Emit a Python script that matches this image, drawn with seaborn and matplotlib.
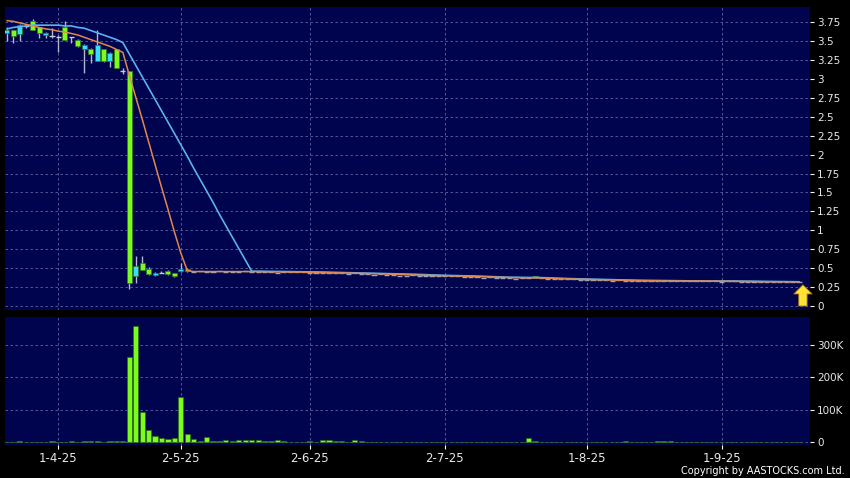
import numpy as np
import matplotlib
matplotlib.use('Agg')
import matplotlib.pyplot as plt
from matplotlib.ticker import FuncFormatter
import seaborn as sns

############# data
# x = trading-day index, day 0 = 20-3-25 (HK trading days)
tick_days = [8, 27, 47, 68, 90, 111]
tick_labels = ['1-4-25', '2-5-25', '2-6-25', '2-7-25', '1-8-25', '1-9-25']

# candles up to just after the collapse (days 0-28)
c_open = [3.60, 3.64, 3.59, 3.70, 3.77, 3.68, 3.58, 3.57, 3.56, 3.68,
          3.55, 3.52, 3.39, 3.40, 3.24, 3.39, 3.24, 3.39, 3.10, 3.10,
          0.39, 0.57, 0.485, 0.41, 0.44, 0.46, 0.43, 0.46, 0.49]
c_high = [3.68, 3.65, 3.72, 3.73, 3.79, 3.69, 3.62, 3.67, 3.58, 3.76,
          3.56, 3.53, 3.46, 3.41, 3.65, 3.40, 3.35, 3.40, 3.14, 3.10,
          0.66, 0.66, 0.52, 0.45, 0.46, 0.47, 0.44, 0.57, 0.50]
c_low = [3.50, 3.47, 3.50, 3.67, 3.65, 3.54, 3.54, 3.54, 3.36, 3.52,
         3.47, 3.42, 3.08, 3.21, 3.23, 3.22, 3.16, 3.14, 3.06, 0.23,
         0.31, 0.47, 0.41, 0.40, 0.43, 0.41, 0.38, 0.45, 0.45]
c_close = [3.65, 3.57, 3.71, 3.70, 3.65, 3.61, 3.60, 3.57, 3.56, 3.52,
           3.55, 3.43, 3.45, 3.33, 3.45, 3.23, 3.34, 3.15, 3.10, 0.30,
           0.53, 0.48, 0.42, 0.44, 0.44, 0.42, 0.39, 0.49, 0.46]

# after that the price hardly moves: closes for days 29-123
tail_close = [0.45, 0.46, 0.45, 0.45, 0.46, 0.45, 0.45, 0.45, 0.46, 0.45,
              0.45, 0.45, 0.45, 0.44, 0.45, 0.45, 0.45, 0.45, 0.44,
              0.44, 0.44, 0.43, 0.43, 0.43, 0.42, 0.43, 0.42, 0.42, 0.41,
              0.42, 0.41, 0.41,
              0.40, 0.40, 0.41, 0.40, 0.40, 0.39, 0.39, 0.39, 0.40, 0.39,
              0.38, 0.38, 0.38, 0.37, 0.38,
              0.37, 0.37, 0.37, 0.36, 0.37, 0.37, 0.38, 0.37, 0.36, 0.36,
              0.35, 0.35, 0.35, 0.34, 0.34,
              0.34, 0.34, 0.34, 0.33, 0.34, 0.33, 0.33, 0.33, 0.33, 0.33,
              0.33, 0.33, 0.33, 0.33, 0.33,
              0.33, 0.33, 0.33, 0.33, 0.33, 0.32, 0.33, 0.33, 0.32, 0.32,
              0.32, 0.32, 0.32, 0.32, 0.32, 0.32, 0.32, 0.32]
body_day = 82          # the one visible body in the flat part
body_open = 0.39

# volume in thousands, days 0-123
volume_k = [1.5, 1, 2, 1, 1, 1.5, 1, 2, 1, 1, 2, 1, 3, 2, 2, 1, 2, 2, 3,
            262, 360, 93, 38, 20, 12, 10, 13, 141, 24,
            11, 4, 15, 4, 3, 8, 4, 5, 6, 6,
            6, 4, 2, 8, 2, 1, 1, 1, 3, 1,
            5, 5, 2, 2, 1, 8, 2, 1, 1, 1,
            1, 1, 0.5, 1, 1, 1.5, 1, 1, 0.5, 1,
            1, 1, 1.5, 1, 1, 0.5, 1, 1, 1.5, 1,
            1, 1.5, 12, 2, 1, 1, 0.5, 1, 1, 1,
            1, 0.5, 1, 1, 1.5, 1, 1, 3, 1, 1,
            0.5, 1, 2, 2, 2, 1, 1, 0.5, 1, 1,
            1, 1, 0.5, 1, 1, 1, 1, 0.5, 1, 1,
            1, 1, 0.5, 1, 1]

# moving averages (orange = 10 day, blue = 20 day)
ma10_days = list(range(29)) + [29, 33, 38, 43, 48, 53, 58, 63, 68, 73, 78,
                               83, 88, 93, 98, 103, 108, 113, 118, 123]
ma10 = [3.77, 3.76, 3.74, 3.72, 3.70, 3.68, 3.66, 3.65, 3.63, 3.62,
        3.60, 3.58, 3.55, 3.52, 3.49, 3.46, 3.43, 3.39, 3.35, 3.05,
        2.76, 2.47, 2.17, 1.87, 1.57, 1.28, 0.98, 0.70, 0.47,
        0.455, 0.455, 0.455, 0.45, 0.445, 0.435, 0.425, 0.41, 0.40, 0.39,
        0.375, 0.37, 0.355, 0.345, 0.335, 0.33, 0.33, 0.325, 0.32, 0.32]
ma20_days = list(range(39)) + [43, 48, 53, 58, 63, 68, 73, 78, 83, 88,
                               93, 98, 103, 108, 113, 118, 123]
ma20 = [3.66, 3.68, 3.69, 3.70, 3.71, 3.71, 3.71, 3.71, 3.71, 3.70,
        3.70, 3.68, 3.67, 3.64, 3.61, 3.58, 3.55, 3.52, 3.48, 3.33,
        3.18, 3.03, 2.88, 2.73, 2.58, 2.43, 2.28, 2.13, 1.98, 1.82,
        1.67, 1.52, 1.37, 1.21, 1.06, 0.91, 0.76, 0.61, 0.46,
        0.455, 0.45, 0.44, 0.43, 0.42, 0.405, 0.395, 0.38, 0.375, 0.36,
        0.35, 0.34, 0.335, 0.33, 0.33, 0.325, 0.32]

############# style
NAVY = '#00034d'
GREEN = '#7cfc1c'
CYAN = '#38dcff'
GRID = '#5a67a0'
sns.set_style('dark', rc={'axes.facecolor': NAVY, 'figure.facecolor': 'black'})
plt.rcParams['font.family'] = ['DejaVu Sans']

fig = plt.figure(figsize=(8.5, 4.78), dpi=100)
ax = fig.add_axes([5 / 850, 168 / 478, 805 / 850, 303 / 478])
axv = fig.add_axes([5 / 850, 33 / 478, 805 / 850, 128 / 478], sharex=ax)

############# candles
o = np.array(c_open)
c = np.array(c_close)
days = np.arange(len(c))
flat = o == c
up = c > o

ax.vlines(days, c_low, c_high, color='#b4b6cc', lw=1, zorder=2)
body_cols = [CYAN if u else GREEN for u in up[~flat]]
ax.bar(days[~flat], np.abs(c - o)[~flat], bottom=np.minimum(o, c)[~flat],
       width=0.78, color=body_cols, edgecolor='#2f7a22', lw=0.5, zorder=3)
ax.hlines(c[flat], days[flat] - 0.4, days[flat] + 0.4, color='#c8cadc', lw=1, zorder=3)

tail_days = np.arange(len(c), len(c) + len(tail_close))
tc = np.array(tail_close)
ax.hlines(tc, tail_days - 0.4, tail_days + 0.4, color='#9ea4c0', lw=1, zorder=3)
ax.bar([body_day], [body_open - tail_close[body_day - len(c)]],
       bottom=[tail_close[body_day - len(c)]], width=0.78, color=GREEN,
       edgecolor='#2f7a22', lw=0.5, zorder=3)

############# moving averages
sns.lineplot(x=ma20_days, y=ma20, ax=ax, color='#5ab2ee', lw=1.2, zorder=4)
sns.lineplot(x=ma10_days, y=ma10, ax=ax, color='#e0884e', lw=1.1, zorder=4)

# latest-price arrow
last = tail_days[-1] + 0.6
ax.annotate('', xy=(last, 0.28), xytext=(last, 0.0),
            arrowprops=dict(arrowstyle='simple,head_length=0.55,head_width=1.1,tail_width=0.5',
                            fc='#ffe23a', ec='#b07a00', lw=0.6, mutation_scale=12,
                            shrinkA=0, shrinkB=0), zorder=6)

############# volume
all_days = np.arange(len(volume_k))
axv.bar(all_days, np.array(volume_k) * 1000, width=0.8, color=GREEN,
        edgecolor='#2a6a18', lw=0.5, zorder=3)

############# axes
ax.set_xlim(-0.3, 124.7)
ax.set_ylim(-0.053, 3.95)
axv.set_ylim(-9000, 387000)

ax.set_yticks(np.arange(0, 3.76, 0.25))
ax.yaxis.set_major_formatter(FuncFormatter(lambda v, p: f'{v:g}'))
axv.set_yticks([0, 100000, 200000, 300000])
axv.yaxis.set_major_formatter(FuncFormatter(lambda v, p: '0' if v == 0 else f'{int(v / 1000)}K'))
axv.set_xticks(tick_days)
axv.set_xticklabels(tick_labels)

for a in (ax, axv):
    a.yaxis.tick_right()
    a.grid(True, color=GRID, ls=(0, (3, 3)), lw=0.6)
    a.set_axisbelow(True)
    a.set_xlabel('')
    a.set_ylabel('')
    for s in a.spines.values():
        s.set_visible(False)
    a.tick_params(axis='y', colors='white', labelcolor='#e8e8e8', labelsize=7.5,
                  length=3, width=0.8, pad=2, right=True, left=False)
ax.tick_params(axis='x', bottom=False, labelbottom=False)
axv.tick_params(axis='x', colors='white', labelcolor='#e8e8e8', labelsize=8.5,
                length=3, width=0.8, pad=2, bottom=True)

fig.text(845 / 850, 2 / 478, 'Copyright by AASTOCKS.com Ltd.', color='white',
         fontsize=7, ha='right', va='bottom')

plt.savefig('out.png', dpi=100, facecolor='black')
